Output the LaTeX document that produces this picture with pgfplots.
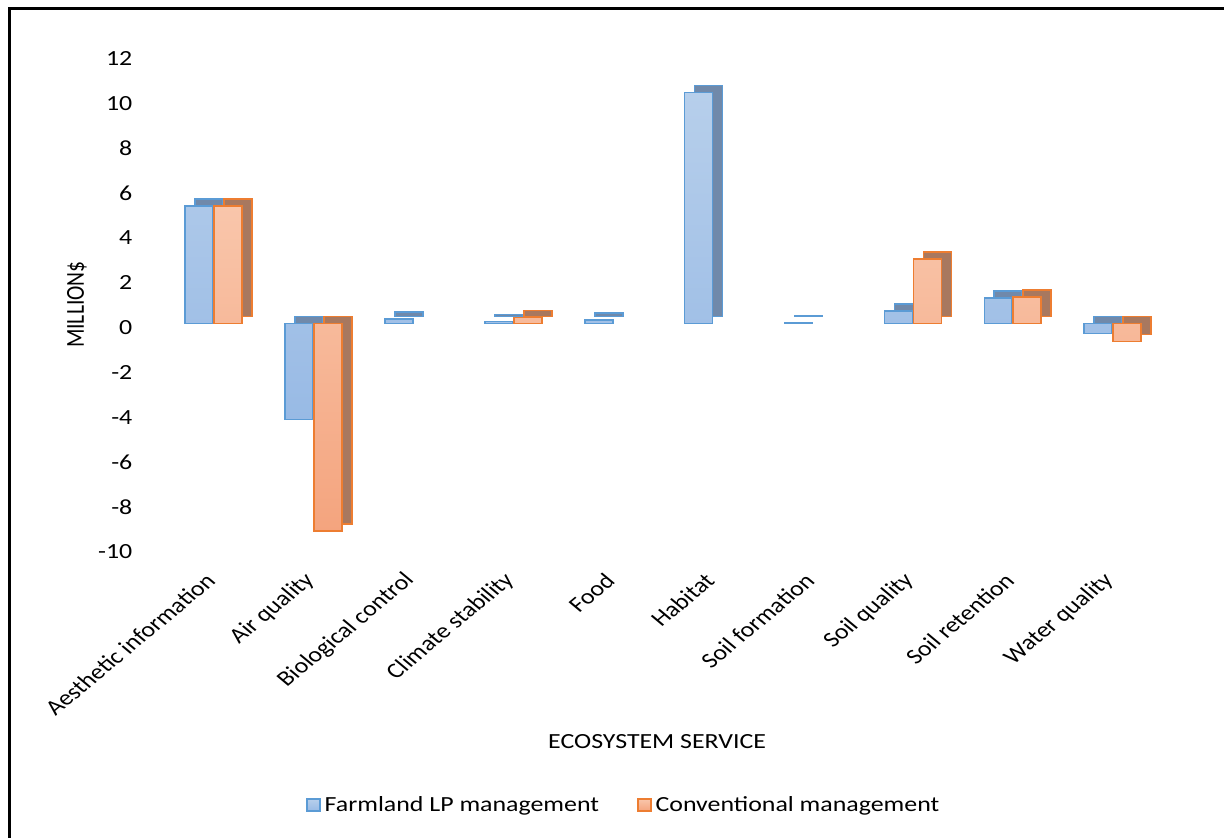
\documentclass[border=0pt]{standalone}
\usepackage{fontspec}
\setmainfont{Carlito}
\usepackage{pgfplots}
\pgfplotsset{compat=1.18}
\definecolor{bEdge}{HTML}{5B9BD5}
\definecolor{bTop}{HTML}{B7CFEB}
\definecolor{bBot}{HTML}{98BAE5}
\definecolor{bShade}{HTML}{7089AA}
\definecolor{oEdge}{HTML}{ED7D31}
\definecolor{oTop}{HTML}{F9C6AB}
\definecolor{oBot}{HTML}{F4A47E}
\definecolor{oShade}{HTML}{A8785F}
\newcommand{\sz}{\fontsize{10.8}{13}\selectfont}
\begin{document}
\begin{tikzpicture}[x=1pt,y=1pt]
\fill[white] (0,0) rectangle (612.5,419.5);
\draw[black, line width=1.5pt] (5,0) -- (5,415.25) -- (612.5,415.25);
\begin{axis}[
  at={(82pt,145.25pt)}, anchor=south west,
  scale only axis, width=500pt, height=247pt,
  xmin=-0.5, xmax=9.5, ymin=-10, ymax=12,
  ytick={-10,-8,...,12},
  xtick={0,...,9},
  xticklabels={Aesthetic information, Air quality, Biological control, Climate stability, Food, Habitat, Soil formation, Soil quality, Soil retention, Water quality},
  axis line style={draw=none},
  major tick length=0pt,
  clip=false,
  ybar, bar width=14pt,
  /pgf/number format/assume math mode=true,
  yticklabel style={font=\sz, inner sep=0pt, anchor=east, xshift=-15.5pt, yshift=-2pt, xscale=1.2},
  xticklabel style={font=\sz, inner sep=0pt, anchor=east, xshift=-1.5pt, yshift=-14.5pt, xscale=1.2, rotate=45},
  every axis x label/.style={at={(axis description cs:0.494,0)}, anchor=center, yshift=-96.75pt, xscale=1.2, font=\sz},
  every axis y label/.style={at={(axis description cs:0,0.493)}, anchor=center, xshift=-43.5pt, xscale=1.2, rotate=90, font=\sz},
  xlabel={ECOSYSTEM SERVICE},
  ylabel={MILLION\$},
  legend columns=2,
  legend style={at={(axis description cs:0.4615,-0.5213)}, anchor=center, draw=none, fill=none, font=\sz,
    /tikz/every even column/.append style={column sep=17pt}},
  legend image code/.code={\draw[#1, line width=0.8pt] (0pt,-3pt) rectangle (6.5pt,3pt);},
]
% depth (side/top faces)
\addplot[forget plot, bar shift=-2.25pt, yshift=3.5pt, fill=bShade, draw=bEdge, line width=0.8pt]
  coordinates {(0,5.25) (1,-4.28) (2,0.2) (3,0.1) (4,0.15) (5,10.3) (6,0.04) (7,0.55) (8,1.15) (9,-0.45)};
\addplot[forget plot, bar shift=12.25pt, yshift=3.5pt, fill=oShade, draw=oEdge, line width=0.8pt]
  coordinates {(0,5.25) (1,-9.25) (3,0.27) (7,2.88) (8,1.19) (9,-0.8)};
% front faces
\addplot[bar shift=-7.25pt, top color=bTop, bottom color=bBot, draw=bEdge, line width=0.8pt]
  coordinates {(0,5.25) (1,-4.28) (2,0.2) (3,0.1) (4,0.15) (5,10.3) (6,0.04) (7,0.55) (8,1.15) (9,-0.45)};
\addplot[bar shift=7.25pt, top color=oTop, bottom color=oBot, draw=oEdge, line width=0.8pt]
  coordinates {(0,5.25) (1,-9.25) (3,0.27) (7,2.88) (8,1.19) (9,-0.8)};
\legend{\scalebox{1.2}[1]{Farmland LP management}, \scalebox{1.2}[1]{Conventional management}}
\end{axis}
\end{tikzpicture}
\end{document}
